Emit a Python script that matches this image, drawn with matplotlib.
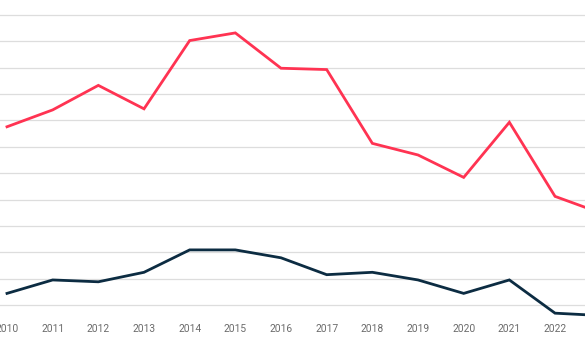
import matplotlib
matplotlib.use("Agg")
import matplotlib.pyplot as plt

years = list(range(2010, 2024))
red_series = [77.6, 84.0, 93.3, 84.4, 110.3, 113.2, 99.8, 99.3, 71.3, 66.9, 58.4, 79.3, 51.2, 44.9]
dark_series = [14.4, 19.5, 18.8, 22.4, 30.9, 30.9, 27.9, 21.5, 22.4, 19.5, 14.4, 19.5, 6.9, 6.0]
grid_values = list(range(10, 130, 10))
tick_years = list(range(2010, 2023))

W, H = 585, 345
fig = plt.figure(figsize=(W / 100, H / 100), dpi=100)
fig.patch.set_facecolor("white")

px_per_year = 45.67
x_left_val = 2009.85
x_right_val = 2023
left_px = 7 - (2010 - x_left_val) * px_per_year
width_px = (x_right_val - x_left_val) * px_per_year
y_top_px = 1.8
y_bot_px = 320
ax = fig.add_axes([left_px / W, (H - y_bot_px) / H, width_px / W, (y_bot_px - y_top_px) / H])

ax.plot(years, red_series, color="#ff3352", lw=2.0, solid_joinstyle="miter", zorder=3)
ax.plot(years, dark_series, color="#0c2c42", lw=2.0, solid_joinstyle="miter", zorder=3)

ax.set_xlim(x_left_val, x_right_val)
ax.set_ylim(4.31, 125)
ax.set_yticks(grid_values)
ax.set_yticklabels([])
ax.set_xticks(tick_years)
ax.set_xticklabels([str(y) for y in tick_years], fontfamily="Roboto", fontsize=7.4, color="#6b6b6b")
ax.tick_params(axis="x", length=0, pad=3)
ax.tick_params(axis="y", length=0)
ax.grid(axis="y", color="#dddddd", lw=0.9)
ax.grid(axis="x", visible=False)
for s in ax.spines.values():
    s.set_visible(False)
ax.set_facecolor("white")

fig.savefig("out.png", dpi=100, facecolor="white")
